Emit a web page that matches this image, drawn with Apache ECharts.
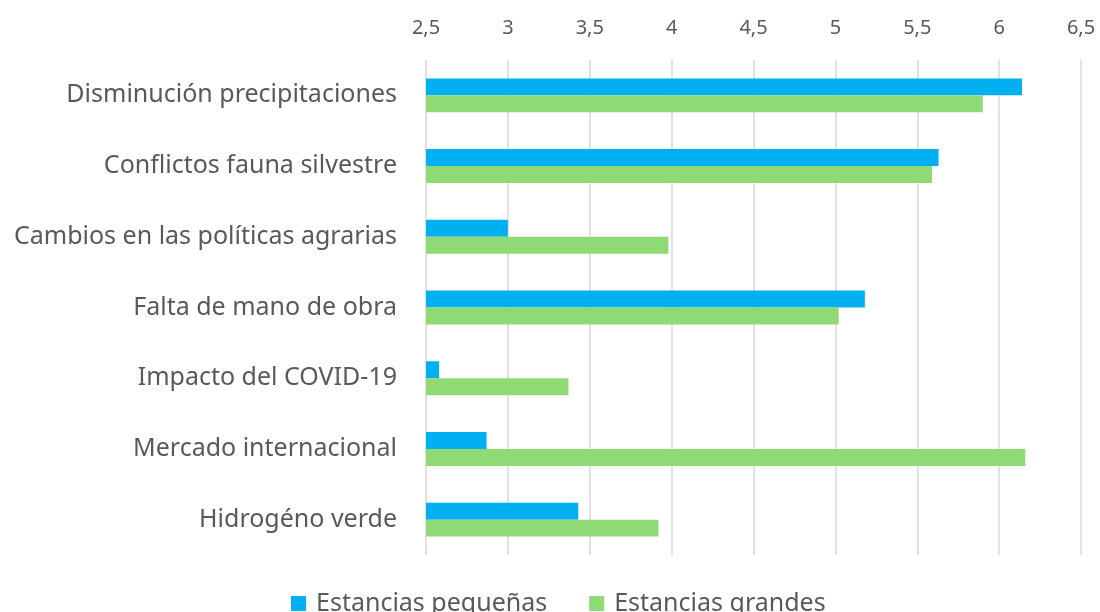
<!DOCTYPE html>
<html lang="es">
<head>
  <meta charset="UTF-8">
  <title>Estancias</title>
  <script src="https://cdn.jsdelivr.net/npm/echarts@6/dist/echarts.min.js"></script>
  <style>
    html, body { margin: 0; padding: 0; background: #fff; }
    #main { width: 1100px; height: 612px; }
  </style>
</head>
<body>
<div id="main"></div>
<script>
  // categorías (de arriba hacia abajo)
  var categorias = [
    'Disminución precipitaciones',
    'Conflictos fauna silvestre',
    'Cambios en las políticas agrarias',
    'Falta de mano de obra',
    'Impacto del COVID-19',
    'Mercado internacional',
    'Hidrogéno verde'
  ];
  var pequenas = [6.14, 5.63, 3.0, 5.18, 2.58, 2.87, 3.43];
  var grandes = [5.9, 5.59, 3.98, 5.02, 3.37, 6.16, 3.92];
  var nombresSeries = ['Estancias pequeñas', 'Estancias grandes'];

  var myChart = echarts.init(document.getElementById('main'));
  var fuente = '"Noto Sans", sans-serif';

  myChart.setOption({
    backgroundColor: '#ffffff',
    animation: false,
    textStyle: { fontFamily: fuente },
    legend: {
      bottom: -9,
      left: 286,
      itemWidth: 15,
      itemHeight: 15,
      itemGap: 42,
      icon: 'rect',
      textStyle: { fontSize: 25, color: '#595959', fontFamily: fuente, padding: [0, 0, 0, 5] },
      data: nombresSeries
    },
    grid: { left: 426, right: 19, top: 60, bottom: 57 },
    xAxis: {
      type: 'value',
      position: 'top',
      min: 2.5,
      max: 6.5,
      interval: 0.5,
      axisLine: { show: false },
      axisTick: { show: false },
      axisLabel: {
        color: '#595959',
        fontSize: 20,
        margin: 22,
        formatter: function (v) { return String(v).replace('.', ','); }
      },
      splitLine: { lineStyle: { color: '#d9d9d9', width: 1.5 } }
    },
    yAxis: {
      type: 'category',
      inverse: true,
      data: categorias,
      axisLine: { show: false },
      axisTick: { show: false },
      axisLabel: { color: '#595959', fontSize: 25, margin: 29 }
    },
    series: [
      {
        name: nombresSeries[0],
        type: 'bar',
        data: pequenas,
        barGap: '0%',
        barCategoryGap: '52%',
        itemStyle: { color: '#00b0f0' }
      },
      {
        name: nombresSeries[1],
        type: 'bar',
        data: grandes,
        barGap: '0%',
        barCategoryGap: '52%',
        itemStyle: { color: '#8fda75' }
      }
    ]
  });
</script>
</body>
</html>
